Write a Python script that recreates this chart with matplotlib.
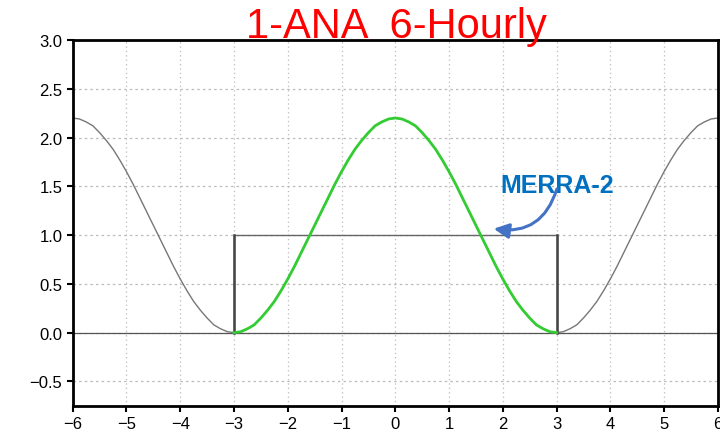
import matplotlib.pyplot as plt
import numpy as np

# ==================================
# data
# ==================================
# curve sampled every 0.125 from -6 to 6
x_start, x_stop, n_pts = -6.0, 6.0, 97
curve_vals = [
    2.20, 2.19, 2.16, 2.12, 2.05, 1.97, 1.88, 1.77, 1.65, 1.52, 1.38, 1.24, 1.10,
    0.96, 0.82, 0.68, 0.55, 0.43, 0.32, 0.23, 0.15, 0.08, 0.04, 0.01, 0.00,
    0.01, 0.04, 0.08, 0.15, 0.23, 0.32, 0.43, 0.55, 0.68, 0.82, 0.96, 1.10,
    1.24, 1.38, 1.52, 1.65, 1.77, 1.88, 1.97, 2.05, 2.12, 2.16, 2.19, 2.20,
    2.19, 2.16, 2.12, 2.05, 1.97, 1.88, 1.77, 1.65, 1.52, 1.38, 1.24, 1.10,
    0.96, 0.82, 0.68, 0.55, 0.43, 0.32, 0.23, 0.15, 0.08, 0.04, 0.01, 0.00,
    0.01, 0.04, 0.08, 0.15, 0.23, 0.32, 0.43, 0.55, 0.68, 0.82, 0.96, 1.10,
    1.24, 1.38, 1.52, 1.65, 1.77, 1.88, 1.97, 2.05, 2.12, 2.16, 2.19, 2.20,
]

box_x = [-3, -3, 3, 3]
box_y = [0, 1, 1, 0]

x_ticks = [-6, -5, -4, -3, -2, -1, 0, 1, 2, 3, 4, 5, 6]
y_ticks = [-0.5, 0.0, 0.5, 1.0, 1.5, 2.0, 2.5, 3.0]

x_arr = np.linspace(x_start, x_stop, n_pts)
y_arr = np.array(curve_vals)
inside = (x_arr >= -3) & (x_arr <= 3)

plt.rcParams['font.family'] = ['Liberation Sans', 'DejaVu Sans']

fig = plt.figure(figsize=(7.2, 4.31), dpi=100)
ax = fig.add_axes([0.101, 0.056, 0.896, 0.849])

# grid
for xv in x_ticks:
    ax.axvline(xv, color="#bbbbbb", lw=0.9, ls=(0, (1, 2.5)), zorder=0)
for yv in y_ticks:
    ax.axhline(yv, color="#bbbbbb", lw=0.9, ls=(0, (2, 2.5)), zorder=0)

# zero line
ax.axhline(0, color="#555555", lw=0.9, zorder=1)

# curves
ax.plot(x_arr, y_arr, color="#777777", lw=1.0, zorder=2)
ax.plot(x_arr[inside], y_arr[inside], color="#33cc33", lw=2.0, zorder=3)

# box
ax.plot(box_x, box_y, color="#666666", lw=1.0, zorder=2)
ax.plot([-3, -3], [0, 1], color="#444444", lw=1.8, zorder=2)
ax.plot([3, 3], [0, 1], color="#444444", lw=1.8, zorder=2)

ax.set_xlim(-6, 6)
ax.set_ylim(-0.75, 3.0)
ax.set_xticks(x_ticks)
ax.set_yticks(y_ticks)
ax.set_yticklabels([f"{v:.1f}".replace("-", "\u2212") for v in y_ticks])
ax.tick_params(direction="out", length=4, width=1.5, labelsize=12)

for s in ax.spines.values():
    s.set_linewidth(2.0)
    s.set_color("black")

# title
fig.text(0.551, 0.912, "1-ANA  6-Hourly", color="red", fontsize=30,
         ha="center", va="baseline")

# annotation
ax.text(3.01, 1.44, "MERRA-2", color="#0070c0", fontsize=18,
        fontweight="bold", ha="center", va="baseline")
ax.annotate("", xy=(1.78, 1.07), xytext=(3.02, 1.50),
            arrowprops=dict(arrowstyle="-|>,head_length=0.9,head_width=0.45",
                            color="#4472c4", lw=2.2,
                            connectionstyle="arc3,rad=-0.45"))

plt.savefig("out.png", dpi=100)
